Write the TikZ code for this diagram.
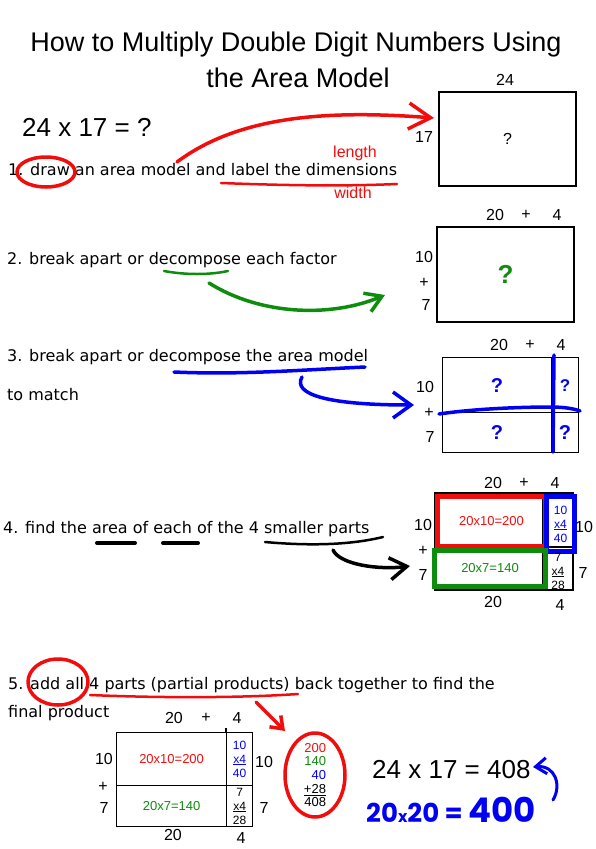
\documentclass[tikz,border=0pt]{standalone}
\usepackage{fontspec}
\setmainfont{DejaVu Sans}
\newfontfamily\arialfont{Liberation Sans}
\newfontfamily\handfont{Poppins}
\usetikzlibrary{positioning,arrows.meta,shapes.geometric}

\definecolor{penred}{rgb}{0.95,0.05,0.05}
\definecolor{pengreen}{rgb}{0.05,0.55,0.05}
\definecolor{penblue}{rgb}{0.0,0.0,0.95}

\begin{document}
\begin{tikzpicture}[x=1pt,y=-1pt,
  titletext/.style={font=\arialfont\fontsize{27}{30}\selectfont, inner sep=0},
  eqtext/.style={font=\arialfont\fontsize{26}{28}\selectfont, inner sep=0, anchor=west},
  steptext/.style={font=\fontsize{16}{19}\selectfont, inner sep=0, anchor=west},
  dimlabel/.style={font=\arialfont\fontsize{16}{18}\selectfont, inner sep=0},
  celltext/.style={font=\arialfont\fontsize{13}{15}\selectfont, inner sep=0},
  multext/.style={font=\arialfont\fontsize{12}{14}\selectfont, inner sep=0, align=center},
  cellbox/.style={draw, line width=1.2pt, inner sep=0},
  pen/.style={line width=3.5pt, line cap=round, line join=round},
  hand/.style={font=\handfont\bfseries\fontsize{26}{28}\selectfont, inner sep=0, anchor=west, text=penblue}
]
\useasboundingbox (0,0) rectangle (596,849);

% Title
\node[titletext] (title1) at (296,45) {How to Multiply Double Digit Numbers Using};
\node[titletext] (title2) at (298,78) {the Area Model};

% Step 1
\node[eqtext] (eq1) at (22,127) {24 x 17 = ?};
\node[cellbox, minimum width=137, minimum height=94, font=\arialfont\fontsize{16}{18}\selectfont] (box1) at (507.5,139) {?};
\node[dimlabel] (top1) at (505,80) {24};
\node[dimlabel] (side1) at (424,137) {17};
\node[steptext] (step1) at (8,170) {1. draw an area model and label the dimensions};
\node[dimlabel, text=penred] (length) at (355,153) {length};
\node[dimlabel, text=penred] (width) at (353,193) {width};
\coordinate (tip1) at (434,118);
\draw[pen, penred] (46,172) ellipse (29 and 15);
\draw[pen, penred, line width=2.5pt] (221,183) .. controls (300,186) and (350,186) .. (397,184);
\draw[pen, penred, -{Straight Barb[length=22pt, width=26pt]}] (177,162) .. controls (240,115) and (330,110) .. (tip1);

% Step 2
\node[cellbox, minimum width=137, minimum height=95, text=pengreen, font=\arialfont\bfseries\fontsize{26}{28}\selectfont] (box2) at (505.5,274.5) {?};
\node[dimlabel] (top2a) at (495,215) {20};
\node[dimlabel] (top2b) at (526,215) {+};
\node[dimlabel] (top2c) at (557,215) {4};
\node[dimlabel] (side2a) at (424,257) {10};
\node[dimlabel] (side2b) at (424,283) {+};
\node[dimlabel] (side2c) at (426,305) {7};
\node[steptext] (step2) at (7,260) {2. break apart or decompose each factor};
\coordinate (tail2) at (209,283);
\coordinate (tip2) at (385,295);
\draw[pen, pengreen, line width=2.5pt] (164,271) .. controls (185,275) and (210,275) .. (228,271);
\draw[pen, pengreen, -{Straight Barb[length=16pt, width=20pt]}] (tail2) .. controls (260,315) and (330,318) .. (tip2);

% Step 3
\node[cellbox, minimum width=109, minimum height=55, anchor=north west] (c3a) at (442,357) {};
\node[cellbox, minimum width=27, minimum height=55, anchor=north west] (c3b) at (551,357) {};
\node[cellbox, minimum width=109, minimum height=40, anchor=north west] (c3c) at (442,412) {};
\node[cellbox, minimum width=27, minimum height=40, anchor=north west] (c3d) at (551,412) {};
\node[dimlabel, font=\arialfont\bfseries\fontsize{20}{22}\selectfont, text=penblue] at (c3a) {?};
\node[dimlabel, font=\arialfont\bfseries\fontsize{17}{18}\selectfont, text=penblue] at (c3b) {?};
\node[dimlabel, font=\arialfont\bfseries\fontsize{20}{22}\selectfont, text=penblue] at (c3c) {?};
\node[dimlabel, font=\arialfont\bfseries\fontsize{20}{22}\selectfont, text=penblue] at (c3d) {?};
\node[dimlabel] (top3a) at (499,345) {20};
\node[dimlabel] (top3b) at (530,345) {+};
\node[dimlabel] (top3c) at (561,345) {4};
\node[dimlabel] (side3a) at (425,387) {10};
\node[dimlabel] (side3b) at (429,413) {+};
\node[dimlabel] (side3c) at (430,437) {7};
\draw[pen, penblue] (554,355) -- (553,452);
\draw[pen, penblue] (439,414) .. controls (480,408) and (530,407) .. (551,407) .. controls (565,407) and (575,409) .. (580,411);
\node[steptext] (step3) at (7,357) {3. break apart or decompose the area model};
\node[steptext] (step3b) at (7,395) {to match};
\coordinate (tail3) at (302,377);
\coordinate (tip3) at (414,405);
\draw[pen, penblue] (174,372) .. controls (240,375) and (300,370) .. (365,367);
\draw[pen, penblue, -{Straight Barb[length=18pt, width=26pt]}] (tail3) .. controls (292,395) and (330,405) .. (tip3);

% Step 4
\draw[line width=1.2pt] (435,493) rectangle (573,590);
\draw[line width=1.2pt] (435,547) -- (573,547) (543,493) -- (543,590);
\node[cellbox, draw=penred, line width=5pt, minimum width=108, minimum height=50, anchor=north west] (c4a) at (435,494) {};
\node[cellbox, draw=penblue, line width=5pt, minimum width=28, minimum height=55, anchor=north west] (c4b) at (544,494) {};
\node[cellbox, draw=pengreen, line width=5pt, minimum width=111, minimum height=36, anchor=north west] (c4c) at (432,548) {};
\node[celltext, text=penred] at (c4a) {20x10=200};
\node[multext, text=penblue] at (c4b) {10\\\underline{x4}\\40};
\node[celltext, text=pengreen] at (c4c) {20x7=140};
\node[multext] (c4d) at (558,571) {7\\\underline{x4}\\28};
\node[dimlabel] (top4a) at (493,483) {20};
\node[dimlabel] (top4b) at (524,483) {+};
\node[dimlabel] (top4c) at (555,483) {4};
\node[dimlabel] (side4a) at (423,525) {10};
\node[dimlabel] (side4b) at (423,551) {+};
\node[dimlabel] (side4c) at (423,575) {7};
\node[dimlabel] (right4a) at (584,527) {10};
\node[dimlabel] (right4b) at (583,573) {7};
\node[dimlabel] (bot4a) at (493,602) {20};
\node[dimlabel] (bot4b) at (560,605) {4};
\node[steptext] (step4) at (3,529) {4. find the area of each of the 4 smaller parts};
\coordinate (tail4) at (333,550);
\coordinate (tip4) at (410,566);
\draw[pen, line width=4pt] (97,543) -- (135,543);
\draw[pen, line width=4pt] (163,543) -- (198,543);
\draw[pen, line width=2.5pt] (265,542) .. controls (310,546) and (350,545) .. (383,537);
\draw[pen, -{Straight Barb[length=17pt, width=22pt]}] (tail4) .. controls (340,565) and (380,570) .. (tip4);

% Step 5
\node[steptext] (step5) at (8,685) {5. add all 4 parts (partial products) back together to find the};
\node[steptext] (step5b) at (8,713) {final product};
\draw[pen, penred] (58,682) ellipse (30 and 23);
\draw[pen, penred, line width=2.5pt] (90,695) .. controls (160,698) and (240,698) .. (298,694);
\coordinate (tail5) at (256,702);
\coordinate (tip5) at (285,731);
\draw[pen, penred, -{Straight Barb[length=11pt, width=16pt]}] (tail5) -- (tip5);
\node[cellbox, minimum width=110, minimum height=53, anchor=north west] (c5a) at (116,732) {};
\node[cellbox, minimum width=26, minimum height=53, anchor=north west] (c5b) at (226,732) {};
\node[cellbox, minimum width=110, minimum height=41, anchor=north west] (c5c) at (116,785) {};
\node[cellbox, minimum width=26, minimum height=41, anchor=north west] (c5d) at (226,785) {};
\draw[line width=1.2pt] (c5b.north west) -- ++(0,-4);
\node[celltext, text=penred] at (c5a) {20x10=200};
\node[multext, text=penblue] at (c5b) {10\\\underline{x4}\\40};
\node[celltext, text=pengreen] at (c5c) {20x7=140};
\node[multext] at (c5d) {7\\\underline{x4}\\28};
\node[dimlabel] (top5a) at (174,718) {20};
\node[dimlabel] (top5b) at (206,718) {+};
\node[dimlabel] (top5c) at (237,718) {4};
\node[dimlabel] (side5a) at (104,759) {10};
\node[dimlabel] (side5b) at (103,787) {+};
\node[dimlabel] (side5c) at (104,808) {7};
\node[dimlabel] (right5a) at (264,762) {10};
\node[dimlabel] (right5b) at (264,808) {7};
\node[dimlabel] (bot5a) at (173,835) {20};
\node[dimlabel] (bot5b) at (241,838) {4};
\node[ellipse, draw=penred, line width=3.5pt, minimum width=60, minimum height=84, inner sep=0] (sum) at (315,775) {};
\node[font=\arialfont\fontsize{13}{13.7}\selectfont, inner sep=0, align=right] at (sum) {\textcolor{penred}{200}\\\textcolor{pengreen}{140}\\\textcolor{penblue}{40}\\\underline{+28}\\408};
\node[eqtext] (eq5) at (372,770) {24 x 17 = 408};
\node[hand] (est) at (366,810) {20{\fontsize{16}{18}\selectfont x}20 = {\fontsize{34}{36}\selectfont 400}};
\coordinate (tail6) at (553,800);
\coordinate (tip6) at (533,767);
\draw[pen, penblue, line width=3pt, -{Straight Barb[length=11pt, width=16pt]}] (tail6) .. controls (562,785) and (555,765) .. (tip6);
\end{tikzpicture}
\end{document}
